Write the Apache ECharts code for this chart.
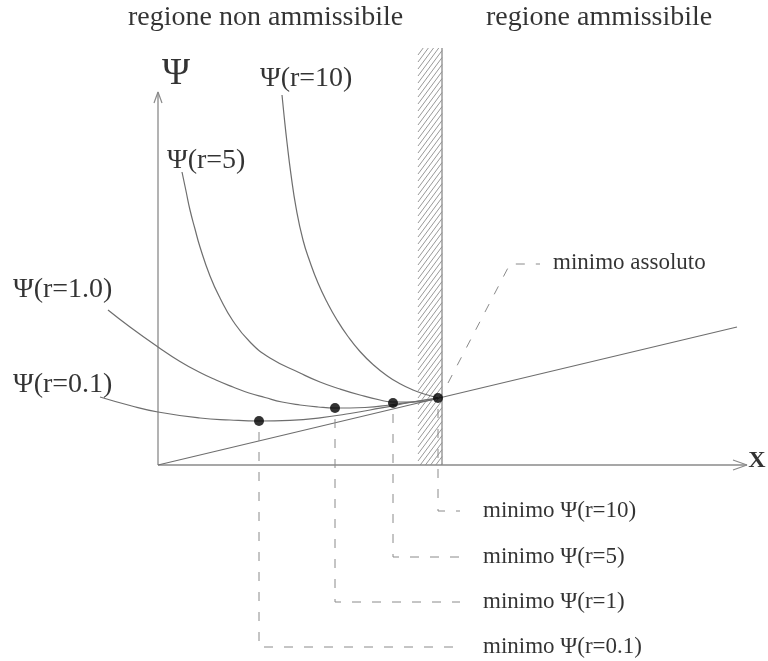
<!DOCTYPE html>
<html><head><meta charset="utf-8">
<script src="https://cdn.jsdelivr.net/npm/echarts@6/dist/echarts.min.js"></script>
<style>html,body{margin:0;padding:0;background:#fff}#c{width:768px;height:661px}</style>
</head><body><div id="c"></div>
<script>
// ---- data (abstract units: x to the right of the Ψ axis, y above the X axis) ----
const curveR01 = [[-5.8,6.8],[-2.8,5.95],[0,5.3],[4.2,4.7],[7.2,4.5],[10.1,4.4],[13.2,4.47],[16.2,4.72],[19.2,5.15],[22.2,5.68],[25.5,6.3],[28.0,6.7]];
const curveR1  = [[-5.0,15.5],[-2.8,13.8],[0,11.8],[2.2,10.35],[4.2,9.25],[5.8,8.5],[7.5,7.8],[9.1,7.2],[10.7,6.75],[12.4,6.3],[14.2,6.0],[16.0,5.8],[17.7,5.7],[20.7,5.75],[23.5,6.05],[25.7,6.35],[28.0,6.7]];
const curveR5  = [[2.4,29.3],[2.8,27.4],[3.2,25.5],[3.7,23.6],[4.2,21.8],[5.2,18.9],[6.2,16.7],[7.5,14.4],[9.2,12.3],[11.2,10.7],[14.2,9.2],[16.2,8.3],[18.2,7.6],[20.2,7.0],[22.2,6.5],[23.5,6.3],[25.7,6.3],[28.0,6.7]];
const curveR10 = [[12.4,37.0],[12.6,35.0],[12.9,32.25],[13.3,29.04],[13.8,25.76],[14.5,22.5],[15.2,20.3],[16.0,18.2],[16.9,16.3],[17.9,14.5],[19.0,12.85],[20.2,11.35],[21.5,10.05],[22.9,8.93],[24.2,8.12],[25.5,7.5],[26.8,7.05],[28.0,6.7]];
const linearLine = [[0,0],[57.9,13.8]];
const minima = [[10.1,4.4],[17.7,5.7],[23.5,6.2],[28.0,6.7]];
const boundaryX = 28.4;
const hatchRange = [26.0, 28.4, 0, 41.7];   // x0, x1, y0, y1
const xAxisEnd = 58.9, yAxisEnd = 37.3;
const leaderR10  = [[28.0,5.6],[28.0,-4.6],[30.2,-4.6]];
const leaderR5   = [[23.5,5.1],[23.5,-9.2],[30.2,-9.2]];
const leaderR1   = [[17.7,4.6],[17.7,-13.7],[30.2,-13.7]];
const leaderR01  = [[10.1,3.3],[10.1,-18.2],[30.2,-18.2]];
const leaderAbs  = [[29.0,8.2],[35.2,20.1],[38.2,20.1]];
const curveLabels = [
  {text:'Ψ(r=10)', at:[10.2,38.6]},
  {text:'Ψ(r=5)', at:[0.9,30.4]},
  {text:'Ψ(r=1.0)', at:[-14.5,17.5]},
  {text:'Ψ(r=0.1)', at:[-14.5,8.0]}
];
const minLabels = [
  {text:'minimo assoluto', at:[39.5,20.2]},
  {text:'minimo Ψ(r=10)', at:[32.5,-4.6]},
  {text:'minimo Ψ(r=5)', at:[32.5,-9.2]},
  {text:'minimo Ψ(r=1)', at:[32.5,-13.7]},
  {text:'minimo Ψ(r=0.1)', at:[32.5,-18.2]}
];
const regionLabels = [
  {text:'regione non ammissibile', at:[-3.0,44.75]},
  {text:'regione ammissibile', at:[32.8,44.75]}
];
const axisNames = [
  {text:'Ψ', at:[1.8,39.1]},
  {text:'X', at:[59.9,0.4]}
];

const FONT = '"Liberation Serif", "Times New Roman", serif';
const GRAY = '#6e6e6e';
const chart = echarts.init(document.getElementById('c'), null, {renderer:'canvas'});

function lineS(data, opt) {
  return Object.assign({type:'line', data:data, symbol:'none', silent:true, animation:false,
    lineStyle:{color:GRAY, width:1.2}, z:2}, opt||{});
}
function textS(items, style, z) {
  return {type:'scatter', symbolSize:0, silent:true, animation:false, z:z||5,
    data: items.map(it => ({value:it.at, label:{show:true, formatter:it.text}})),
    label:Object.assign({position:[0,0], color:'#000', fontFamily:FONT}, style)};
}
const dash = {color:'#8a8a8a', width:1, type:[9,11]};

const series = [
  // hatch
  {type:'custom', silent:true, animation:false, z:1,
   data:[hatchRange],
   renderItem:function(params, api){
     const p0 = api.coord([api.value(0), api.value(3)]);
     const p1 = api.coord([api.value(1), api.value(2)]);
     const x0=p0[0], top=p0[1], x1=p1[0], bottom=p1[1];
     const k=1.35, step=7, children=[];
     for (let c=top; c<=bottom + k*(x1-x0); c+=step) {
       let xa = Math.max(x0, x0 + (c-bottom)/k);
       let xb = Math.min(x1, x0 + (c-top)/k);
       if (xb <= xa) continue;
       children.push({type:'line', shape:{x1:xa, y1:c-k*(xa-x0), x2:xb, y2:c-k*(xb-x0)},
         style:{stroke:'#999', lineWidth:1}});
     }
     return {type:'group', children:children};
   }},
  // axes
  lineS([[0,0],[xAxisEnd,0]], {lineStyle:{color:'#8a8a8a', width:1.3}}),
  lineS([[0,0],[0,yAxisEnd]], {lineStyle:{color:'#8a8a8a', width:1.3}}),
  lineS([[xAxisEnd-1.4,0.5],[xAxisEnd,0],[xAxisEnd-1.4,-0.5]], {lineStyle:{color:'#8a8a8a', width:1.2}}),
  lineS([[-0.4,yAxisEnd-1.1],[0,yAxisEnd],[0.4,yAxisEnd-1.1]], {lineStyle:{color:'#8a8a8a', width:1.2}}),
  // boundary
  lineS([[boundaryX,0],[boundaryX,hatchRange[3]]], {lineStyle:{color:'#8a8a8a', width:1.3}}),
  // linear function
  lineS(linearLine),
  // barrier curves
  lineS(curveR01, {smooth:0.5}),
  lineS(curveR1, {smooth:0.5}),
  lineS(curveR5, {smooth:0.5}),
  lineS(curveR10, {smooth:0.5}),
  // leaders
  lineS(leaderR10, {lineStyle:dash}),
  lineS(leaderR5, {lineStyle:dash}),
  lineS(leaderR1, {lineStyle:dash}),
  lineS(leaderR01, {lineStyle:dash}),
  lineS(leaderAbs, {lineStyle:dash}),
  // minima dots
  {type:'scatter', data:minima, symbol:'circle', symbolSize:10, itemStyle:{color:'#000'}, silent:true, animation:false, z:6},
  // texts
  textS(curveLabels, {fontSize:28, align:'left', verticalAlign:'middle'}),
  textS(minLabels, {fontSize:23, align:'left', verticalAlign:'middle'}),
  textS(regionLabels, {fontSize:28, align:'left', verticalAlign:'middle'}),
  textS([axisNames[0]], {fontSize:38, align:'center', verticalAlign:'middle'}),
  textS([axisNames[1]], {fontSize:24, fontWeight:'bold', align:'center', verticalAlign:'middle'})
];

chart.setOption({
  animation:false,
  backgroundColor:'#fff',
  grid:{left:0, right:0, top:0, bottom:0},
  xAxis:{type:'value', min:-15.8, max:61.0, show:false},
  yAxis:{type:'value', min:-19.6, max:46.5, show:false},
  series:series
});
</script></body></html>
